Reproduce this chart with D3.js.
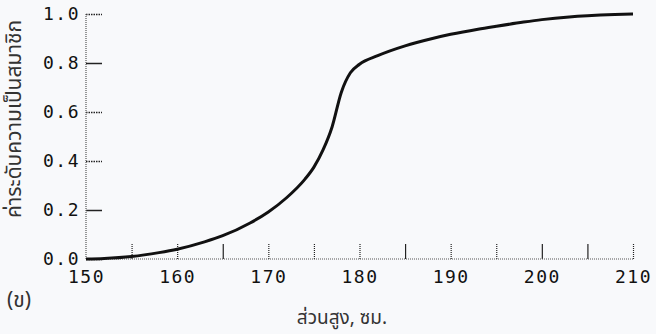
<!DOCTYPE html>
<html>
<head>
<meta charset="utf-8">
<script src="https://cdn.jsdelivr.net/npm/d3@7"></script>
<style>
    body { margin: 0; background: #f8f9fb; }
    #chart { width: 656px; height: 334px; }
    .tick text { font-family: "DejaVu Sans Mono", monospace; font-size: 18px; fill: #111; letter-spacing: 1.5px; }
    .titulo { font-family: "Noto Sans Thai", "Loma", "Garuda", "Noto Sans", sans-serif; fill: #333; }
</style>
</head>
<body>
<div id="chart"></div>
<script>
//Datos
const alturas = [150, 152, 155, 158, 160, 163, 165, 168, 170, 172, 174, 175, 176, 177, 178, 179, 180, 182, 185, 188, 190, 193, 195, 198, 200, 203, 205, 208, 210];
const pertenencia = [0, 0.002, 0.01, 0.026, 0.04, 0.07, 0.095, 0.147, 0.192, 0.25, 0.325, 0.375, 0.445, 0.54, 0.68, 0.76, 0.795, 0.83, 0.87, 0.9, 0.917, 0.938, 0.95, 0.967, 0.977, 0.988, 0.993, 0.998, 1.0];
const xTicks = [150, 160, 170, 180, 190, 200, 210];
const xMinorTicks = [150, 155, 160, 165, 170, 175, 180, 185, 190, 195, 200, 205, 210];
const xSolid = [165, 185, 200, 205];
const yTicks = [0, 0.2, 0.4, 0.6, 0.8, 1.0];
const ySolid = [0.2, 0.8];

let margin = {top: 14, right: 23, bottom: 75, left: 86},
    width = 656 - margin.left - margin.right,
    height = 334 - margin.top - margin.bottom;

let svg = d3.select('#chart')
    .append('svg')
        .attr('width', 656)
        .attr('height', 334)
    .append('g')
        .attr('transform', 'translate(' + margin.left + ',' + margin.top + ')');

let x = d3.scaleLinear()
    .domain([150, 210])
    .range([0, width]);

let y = d3.scaleLinear()
    .domain([0, 1])
    .range([height, 0]);

//Eje X
let xAxis = function(g) {
    g.call(d3.axisBottom(x).tickValues(xMinorTicks).tickSize(0).tickPadding(11)
        .tickFormat(function(d) { return xTicks.indexOf(d) >= 0 ? d : ''; }));
    g.select('.domain').remove();
    g.selectAll('.tick line')
        .attr('y1', 0)
        .attr('y2', function(d) { return d == 150 ? 0 : -15; })
        .attr('stroke', '#222')
        .attr('stroke-width', 1.2)
        .attr('stroke-dasharray', function(d) { return xSolid.indexOf(d) >= 0 ? null : '1,1'; });
}

svg.append('g')
    .attr('transform', 'translate(0,' + height + ')')
    .call(xAxis);

//Eje Y
let yAxis = function(g) {
    g.call(d3.axisLeft(y).tickValues(yTicks).tickSize(0).tickPadding(6).tickFormat(d3.format('.1f')));
    g.select('.domain').remove();
    g.selectAll('.tick line')
        .attr('x1', 0)
        .attr('x2', 16)
        .attr('stroke', '#222')
        .attr('stroke-width', 1.5)
        .attr('stroke-dasharray', function(d) { return ySolid.indexOf(d) >= 0 ? null : '1.5,1'; });
}

svg.append('g')
    .call(yAxis);

//Líneas de los ejes (punteadas)
svg.append('line')
    .attr('x1', 0).attr('x2', 0)
    .attr('y1', y(1)).attr('y2', y(0))
    .attr('stroke', '#555')
    .attr('stroke-width', 1.2)
    .attr('stroke-dasharray', '1,1');

svg.append('line')
    .attr('x1', 0).attr('x2', x(210))
    .attr('y1', y(0)).attr('y2', y(0))
    .attr('stroke', '#555')
    .attr('stroke-width', 1.2)
    .attr('stroke-dasharray', '1,1');

//Curva
let line = d3.line()
    .x(function(d, i) { return x(alturas[i]); })
    .y(function(d) { return y(d); })
    .curve(d3.curveMonotoneX);

svg.append('path')
    .datum(pertenencia)
    .attr('fill', 'none')
    .attr('stroke', '#111')
    .attr('stroke-width', 3)
    .attr('d', line);

//Títulos
let root = d3.select('#chart svg');

root.append('text')
    .attr('class', 'titulo')
    .attr('transform', 'translate(21,119) rotate(-90)')
    .attr('text-anchor', 'middle')
    .attr('font-size', 21)
    .text('ค่าระดับความเป็นสมาชิก');

root.append('text')
    .attr('class', 'titulo')
    .attr('x', 342)
    .attr('y', 324)
    .attr('text-anchor', 'middle')
    .attr('font-size', 19)
    .text('ส่วนสูง, ซม.');

root.append('text')
    .attr('class', 'titulo')
    .attr('x', 7)
    .attr('y', 307)
    .attr('font-size', 21)
    .text('(ข)');
</script>
</body>
</html>
